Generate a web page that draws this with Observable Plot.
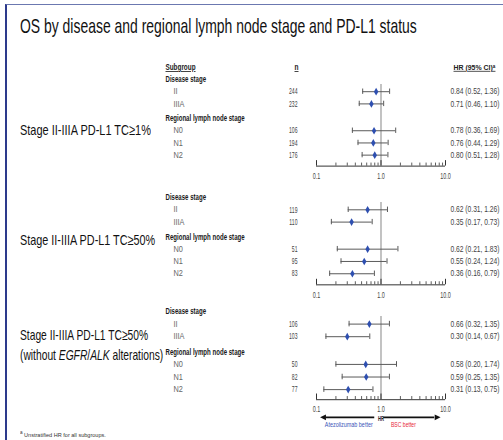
<!DOCTYPE html>
<html><head><meta charset="utf-8">
<script src="https://cdn.jsdelivr.net/npm/d3@7"></script>
<script src="https://cdn.jsdelivr.net/npm/@observablehq/plot@0.6"></script>
<style>
html,body{margin:0;padding:0;background:#fff;}
#page{position:relative;width:503px;height:440px;overflow:hidden;background:#fff;font-family:"Liberation Sans",Arial,sans-serif;}
#frame{position:absolute;left:5px;top:4px;width:600px;height:500px;border-left:2px solid #2d3a8c;border-top:1px solid #6b78b0;}
.fit{position:absolute;left:20px;white-space:nowrap;transform-origin:0 0;color:#111;}
#title{top:14px;font-size:21px;}
.grp{font-size:15px;line-height:20px;}
#foot{top:429px;font-size:6px;color:#333;}
.pl{position:absolute;left:0;top:0;}
</style></head>
<body>
<div id="page">
  <div id="frame"></div>
  <div class="fit" id="title" data-w="397">OS by disease and regional lymph node stage and PD-L1 status</div>
  <div class="fit grp" style="top:120px" data-w="131">Stage II-IIIA PD-L1 TC≥1%</div>
  <div class="fit grp" style="top:230px" data-w="135">Stage II-IIIA PD-L1 TC≥50%</div>
  <div class="fit grp" style="top:325px" data-w="143">Stage II-IIIA PD-L1 TC≥50%<br>(without <i>EGFR</i>/<i>ALK</i> alterations)</div>
  <div class="fit" id="foot" data-w="86"><sup>a</sup> Unstratified HR for all subgroups.</div>
</div>
<script>
// ---- data ----
const populations = ["Stage II-IIIA PD-L1 TC≥1%", "Stage II-IIIA PD-L1 TC≥50%", "Stage II-IIIA PD-L1 TC≥50% (without EGFR/ALK alterations)"];
const sections = ["Disease stage", "Regional lymph node stage"];
const subgroups = ["II", "IIIA", "N0", "N1", "N2"];
const nValues = [[244, 232, 106, 194, 176], [119, 110, 51, 95, 83], [106, 103, 50, 82, 77]];
const hrValues = [[0.84, 0.71, 0.78, 0.76, 0.80], [0.62, 0.35, 0.62, 0.55, 0.36], [0.66, 0.30, 0.58, 0.59, 0.31]];
const ciLow = [[0.52, 0.46, 0.36, 0.44, 0.51], [0.31, 0.17, 0.21, 0.24, 0.16], [0.32, 0.14, 0.20, 0.25, 0.13]];
const ciHigh = [[1.36, 1.10, 1.69, 1.29, 1.28], [1.26, 0.73, 1.83, 1.24, 0.79], [1.35, 0.67, 1.74, 1.35, 0.75]];
const majorTicks = [0.1, 1, 10];
const majorTickLabels = ["0.1", "1.0", "10.0"];
const headerLabels = ["Subgroup", "n", "HR (95% CI)ᵃ"];
const betterLabels = ["Atezolizumab better", "BSC better"];

// ---- layout ----
const W = 503, H = 440;
const panelLayout = [
  {y0: 79, step: 12.2, axis: 8.1, header: true, arrows: false},
  {y0: 197, step: 12.3, axis: 8.1, header: false, arrows: false},
  {y0: 311, step: 12.6, axis: 8.0, header: false, arrows: true}
];
const minorTicks = [];
for (const d of [0.1, 1]) for (let k = 2; k <= 9; k++) minorTicks.push(+(d * k).toFixed(2));
const fmt = v => v.toFixed(2);
const hrLabel = (p, i) => `${fmt(hrValues[p][i])} (${fmt(ciLow[p][i])}, ${fmt(ciHigh[p][i])})`;
const page = document.getElementById("page");

// custom symbols
const tallDiamond = {draw(ctx, size) { const r = Math.sqrt(size), w = r * 0.42, h = r * 0.72;
  ctx.moveTo(0, -h); ctx.lineTo(w, 0); ctx.lineTo(0, h); ctx.lineTo(-w, 0); ctx.closePath(); }};
const headLeft = {draw(ctx, size) { const r = Math.sqrt(size), l = r * 1.1, w = r * 0.55;
  ctx.moveTo(-l, 0); ctx.lineTo(0, -w); ctx.lineTo(0, w); ctx.closePath(); }};
const headRight = {draw(ctx, size) { const r = Math.sqrt(size), l = r * 1.1, w = r * 0.55;
  ctx.moveTo(l, 0); ctx.lineTo(0, -w); ctx.lineTo(0, w); ctx.closePath(); }};

// condense HTML texts to the reference widths
document.querySelectorAll(".fit").forEach(el => {
  el.style.transform = `scaleX(${(+el.dataset.w / el.scrollWidth).toFixed(4)})`;
});

// width-fitting of svg texts (narrow typeface look)
const fitCats = [
  {set: new Set(sections), ref: "Regional lymph node stage", w: 79},
  {set: new Set(subgroups), ref: "IIIA", w: 11},
  {set: new Set(nValues.flat().map(String)), ref: "244", w: 8.5},
  {set: new Set(hrValues.flatMap((r, p) => r.map((_, i) => hrLabel(p, i)))), ref: hrLabel(0, 0), w: 49},
  {set: new Set(majorTickLabels), ref: "10.0", w: 10.5},
  {set: new Set([headerLabels[0]]), ref: headerLabels[0], w: 30},
  {set: new Set([headerLabels[1]]), ref: headerLabels[1], w: 4},
  {set: new Set([headerLabels[2]]), ref: headerLabels[2], w: 42},
  {set: new Set([betterLabels[0]]), ref: betterLabels[0], w: 48},
  {set: new Set([betterLabels[1]]), ref: betterLabels[1], w: 25},
  {set: new Set(["HR"]), ref: "HR", w: 6}
];
const fitK = new Map();
function condense(svg) {
  const texts = d3.select(svg).selectAll("text");
  texts.each(function () {
    const s = this.textContent;
    fitCats.forEach((c, ci) => {
      if (s === c.ref && !fitK.has(ci)) fitK.set(ci, c.w / this.getComputedTextLength());
    });
  });
  texts.each(function () {
    const s = this.textContent;
    const ci = fitCats.findIndex(c => c.set.has(s));
    const k = ci >= 0 && fitK.has(ci) ? fitK.get(ci) : 0.8;
    const t = d3.select(this);
    const tr = t.attr("transform");
    if (tr) { t.attr("transform", tr + ` scale(${k.toFixed(4)},1)`); return; }
    const x = +(t.attr("x") || 0), y = +(t.attr("y") || 0);
    t.attr("x", null).attr("y", null).attr("transform", `translate(${x},${y}) scale(${k.toFixed(4)},1)`);
  });
}

populations.forEach((pop, p) => {
  const L = panelLayout[p];
  const rows = subgroups.map((s, i) => ({
    name: s,
    v: (i < 2 ? 2 + i : 4.2 + (i - 1)),
    n: String(nValues[p][i]), hr: hrValues[p][i], lo: ciLow[p][i], hi: ciHigh[p][i],
    label: hrLabel(p, i)
  }));
  const secs = sections.map((s, i) => ({name: s, v: i === 0 ? 1 : 4.2}));
  const ax = L.axis;
  const fs = 8.4;
  const marks = [
    Plot.ruleX([1], {y1: 1.4, y2: ax, stroke: "#9a9a9a", strokeWidth: 1.2}),
    Plot.ruleY([ax], {x1: majorTicks[0], x2: majorTicks[2], stroke: "#333", strokeWidth: 1}),
    Plot.ruleX(minorTicks, {x: d => d, y1: ax, y2: ax - 0.25, stroke: "#333", strokeWidth: 0.8}),
    Plot.ruleX(majorTicks, {x: d => d, y1: ax, y2: ax - 0.45, stroke: "#333", strokeWidth: 1}),
    Plot.text(majorTicks, {x: d => d, y: ax, dy: 10, text: (d, i) => majorTickLabels[i], fontSize: fs, fill: "#444"}),
    Plot.ruleY(rows, {y: "v", x1: "lo", x2: "hi", stroke: "#5a5a5a", strokeWidth: 1}),
    Plot.ruleX(rows, {x: "lo", y1: d => d.v - 0.22, y2: d => d.v + 0.22, stroke: "#5a5a5a", strokeWidth: 1}),
    Plot.ruleX(rows, {x: "hi", y1: d => d.v - 0.22, y2: d => d.v + 0.22, stroke: "#5a5a5a", strokeWidth: 1}),
    Plot.dot(rows, {x: "hr", y: "v", symbol: tallDiamond, r: 3, fill: "#2e4fb0", stroke: "none"}),
    Plot.text(secs, {y: "v", text: "name", frameAnchor: "left", dx: -151, textAnchor: "start", fontSize: fs, fill: "#1a1a1a", fontWeight: "bold"}),
    Plot.text(rows, {y: "v", text: "name", frameAnchor: "left", dx: -143, textAnchor: "start", fontSize: fs, fill: "#666"}),
    Plot.text(rows, {y: "v", text: "n", frameAnchor: "left", dx: -19, textAnchor: "end", fontSize: fs, fill: "#444"}),
    Plot.text(rows, {y: "v", text: "label", frameAnchor: "right", dx: 5, textAnchor: "start", fontSize: fs, fill: "#444"})
  ];
  if (L.header) {
    marks.push(Plot.text([headerLabels[0]], {y: 0, text: d => d, frameAnchor: "left", dx: -151, textAnchor: "start", fontSize: fs, fill: "#222", fontWeight: "bold"}));
    marks.push(Plot.text([headerLabels[1]], {y: 0, text: d => d, frameAnchor: "left", dx: -20, textAnchor: "middle", fontSize: fs, fill: "#222", fontWeight: "bold"}));
    marks.push(Plot.text([headerLabels[2]], {y: 0, text: d => d, frameAnchor: "right", dx: 8, textAnchor: "start", fontSize: 7.8, fill: "#222", fontWeight: "bold"}));
  }
  if (L.arrows) {
    const ay = ax + 1.4;
    const arrowsData = [{a: 0.8, b: 0.14, head: headLeft}, {a: 1.1, b: 6.8, head: headRight}];
    marks.push(Plot.ruleY(arrowsData, {x1: "a", x2: "b", y: ay, stroke: "#111", strokeWidth: 1.6}));
    marks.push(Plot.dot(arrowsData.slice(0, 1), {x: "b", y: ay, symbol: headLeft, r: 3, fill: "#111", stroke: "none"}));
    marks.push(Plot.dot(arrowsData.slice(1), {x: "b", y: ay, symbol: headRight, r: 3, fill: "#111", stroke: "none"}));
    marks.push(Plot.text(["HR"], {x: 1, y: ay + 0.1, text: d => d, fontSize: 6.5, fill: "#222", fontWeight: "bold"}));
    marks.push(Plot.text([{t: betterLabels[0], x: Math.sqrt(0.8 * 0.125)}, {t: betterLabels[1], x: Math.sqrt(1.1 * 4.5)}],
      {x: "x", y: ay + 0.6, text: "t", fontSize: 8, fill: (d, i) => i === 0 ? "#3b55b8" : "#e8283a"}));
  }
  const svg = Plot.plot({
    width: W, height: H,
    marginLeft: 316, marginRight: 58, marginTop: 0, marginBottom: 0,
    style: {background: "transparent", fontFamily: "'Liberation Sans',Arial,sans-serif", overflow: "visible"},
    x: {type: "log", domain: [0.1, 10], axis: null},
    y: {type: "linear", domain: [0, 10], range: [L.y0 - L.step, L.y0 + 9 * L.step], axis: null},
    marks
  });
  svg.setAttribute("class", "pl");
  d3.select(svg).selectAll("text").filter(function () { return headerLabels.includes(this.textContent); })
    .attr("text-decoration", "underline");
  page.appendChild(svg);
  condense(svg);
});
</script>
</body></html>
